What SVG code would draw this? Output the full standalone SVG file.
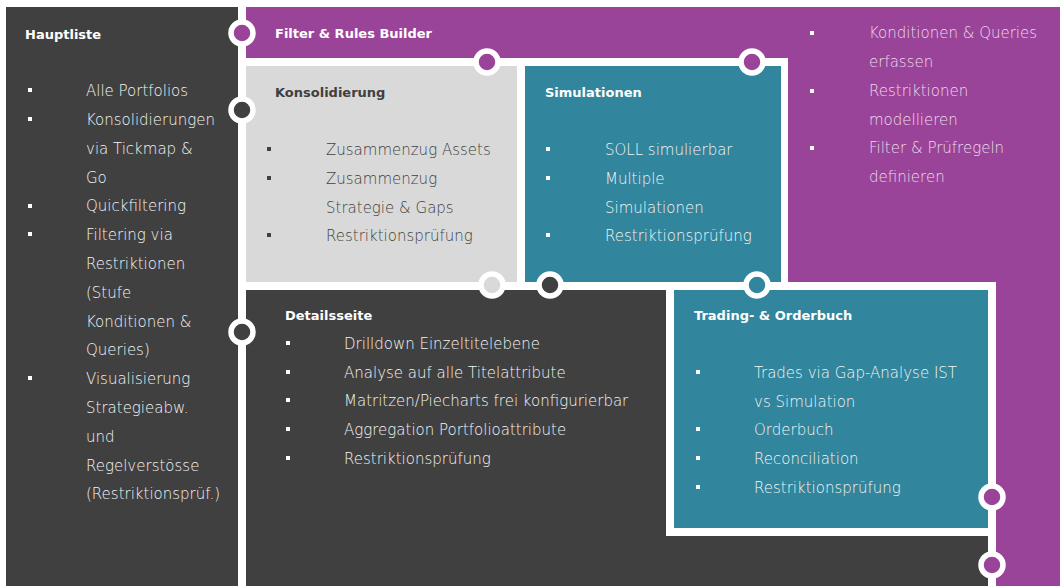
<svg xmlns="http://www.w3.org/2000/svg" width="1060" height="586" viewBox="0 0 1060 586">
<style>
.t{font-family:"DejaVu Sans","Liberation Sans",sans-serif;font-size:15px;font-weight:200}
.h{font-family:"DejaVu Sans","Liberation Sans",sans-serif;font-size:13px;font-weight:bold}
.w{fill:#f4f4f4}
.pk{fill:#ecdaeb}
.dk{fill:#404040}
.ring{stroke:#fff;stroke-width:5.5}
</style>
<defs>
<rect id="b" width="4" height="4"/>
</defs>
<rect width="1060" height="586" fill="#fff"/>
<g id="hauptliste">
<rect x="6" y="7" width="232" height="579" fill="#404040"/>
<text class="h" x="25" y="39" fill="#fff">Hauptliste</text>
<g fill="#fff">
<use href="#b" x="28" y="88"/><use href="#b" x="28" y="117"/><use href="#b" x="28" y="204"/><use href="#b" x="28" y="232"/><use href="#b" x="28" y="376"/>
</g>
<g class="t w">
<text x="86" y="96">Alle Portfolios</text>
<text x="86" y="125">Konsolidierungen</text>
<text x="86" y="154">via Tickmap &amp;</text>
<text x="86" y="183">Go</text>
<text x="86" y="211">Quickfiltering</text>
<text x="86" y="240">Filtering via</text>
<text x="86" y="269">Restriktionen</text>
<text x="86" y="298">(Stufe</text>
<text x="86" y="327">Konditionen &amp;</text>
<text x="86" y="355">Queries)</text>
<text x="86" y="384">Visualisierung</text>
<text x="86" y="413">Strategieabw.</text>
<text x="86" y="442">und</text>
<text x="86" y="471">Regelverstösse</text>
<text x="86" y="499">(Restriktionsprüf.)</text>
</g>
</g>
<g id="filter-rules-builder">
<rect x="246" y="7" width="814" height="579" fill="#9a4499"/>
<text class="h" x="275" y="38" fill="#fff">Filter &amp; Rules Builder</text>
<g fill="#fff">
<use href="#b" x="810" y="31"/><use href="#b" x="810" y="89"/><use href="#b" x="810" y="146"/>
</g>
<g class="t pk">
<text x="869" y="38">Konditionen &amp; Queries</text>
<text x="869" y="67">erfassen</text>
<text x="869" y="96">Restriktionen</text>
<text x="869" y="125">modellieren</text>
<text x="869" y="153">Filter &amp; Prüfregeln</text>
<text x="869" y="182">definieren</text>
</g>
</g>
<rect x="246" y="58" width="542" height="232" fill="#fff"/>
<g id="konsolidierung">
<rect x="246" y="66" width="271" height="216" fill="#d9d9d9"/>
<text class="h" x="275" y="97" fill="#404040">Konsolidierung</text>
<g fill="#404040">
<use href="#b" x="267" y="147"/><use href="#b" x="267" y="176"/><use href="#b" x="267" y="233"/>
</g>
<g class="t dk">
<text x="326" y="155">Zusammenzug Assets</text>
<text x="326" y="184">Zusammenzug</text>
<text x="326" y="213">Strategie &amp; Gaps</text>
<text x="326" y="241">Restriktionsprüfung</text>
</g>
</g>
<g id="simulationen">
<rect x="525" y="66" width="256" height="216" fill="#31859c"/>
<text class="h" x="545" y="97" fill="#fff">Simulationen</text>
<g fill="#fff">
<use href="#b" x="546" y="147"/><use href="#b" x="546" y="176"/><use href="#b" x="546" y="233"/>
</g>
<g class="t w">
<text x="605" y="155">SOLL simulierbar</text>
<text x="605" y="184">Multiple</text>
<text x="605" y="213">Simulationen</text>
<text x="605" y="241">Restriktionsprüfung</text>
</g>
</g>
<rect x="246" y="282" width="750" height="304" fill="#fff"/>
<g id="detailsseite">
<rect x="246" y="290" width="742" height="296" fill="#404040"/>
<text class="h" x="285" y="320" fill="#fff">Detailsseite</text>
<g fill="#fff">
<use href="#b" x="286" y="341"/><use href="#b" x="286" y="370"/><use href="#b" x="286" y="398"/><use href="#b" x="286" y="427"/><use href="#b" x="286" y="456"/>
</g>
<g class="t w">
<text x="344" y="349">Drilldown Einzeltitelebene</text>
<text x="344" y="378">Analyse auf alle Titelattribute</text>
<text x="344" y="406">Matritzen/Piecharts frei konfigurierbar</text>
<text x="344" y="435">Aggregation Portfolioattribute</text>
<text x="344" y="464">Restriktionsprüfung</text>
</g>
</g>
<g id="trading-orderbuch">
<rect x="666" y="290" width="322" height="246" fill="#fff"/>
<rect x="674" y="290" width="314" height="238" fill="#31859c"/>
<text class="h" x="694" y="320" fill="#fff">Trading- &amp; Orderbuch</text>
<g fill="#fff">
<use href="#b" x="696" y="370"/><use href="#b" x="696" y="427"/><use href="#b" x="696" y="456"/><use href="#b" x="696" y="485"/>
</g>
<g class="t w">
<text x="754" y="378">Trades via Gap-Analyse IST</text>
<text x="754" y="407">vs Simulation</text>
<text x="754" y="435">Orderbuch</text>
<text x="754" y="464">Reconciliation</text>
<text x="754" y="493">Restriktionsprüfung</text>
</g>
</g>
<g id="connectors" class="ring">
<circle cx="242" cy="33" r="11" fill="#9a4499"/>
<circle cx="487" cy="62" r="11" fill="#9a4499"/>
<circle cx="752" cy="62" r="11" fill="#9a4499"/>
<circle cx="242" cy="110" r="11" fill="#404040"/>
<circle cx="492" cy="285" r="11" fill="#d9d9d9"/>
<circle cx="550" cy="285" r="11" fill="#404040"/>
<circle cx="757" cy="285" r="11" fill="#31859c"/>
<circle cx="242" cy="332" r="11" fill="#404040"/>
<circle cx="992" cy="497" r="11" fill="#9a4499"/>
<circle cx="992" cy="565" r="11" fill="#9a4499"/>
</g>
</svg>
